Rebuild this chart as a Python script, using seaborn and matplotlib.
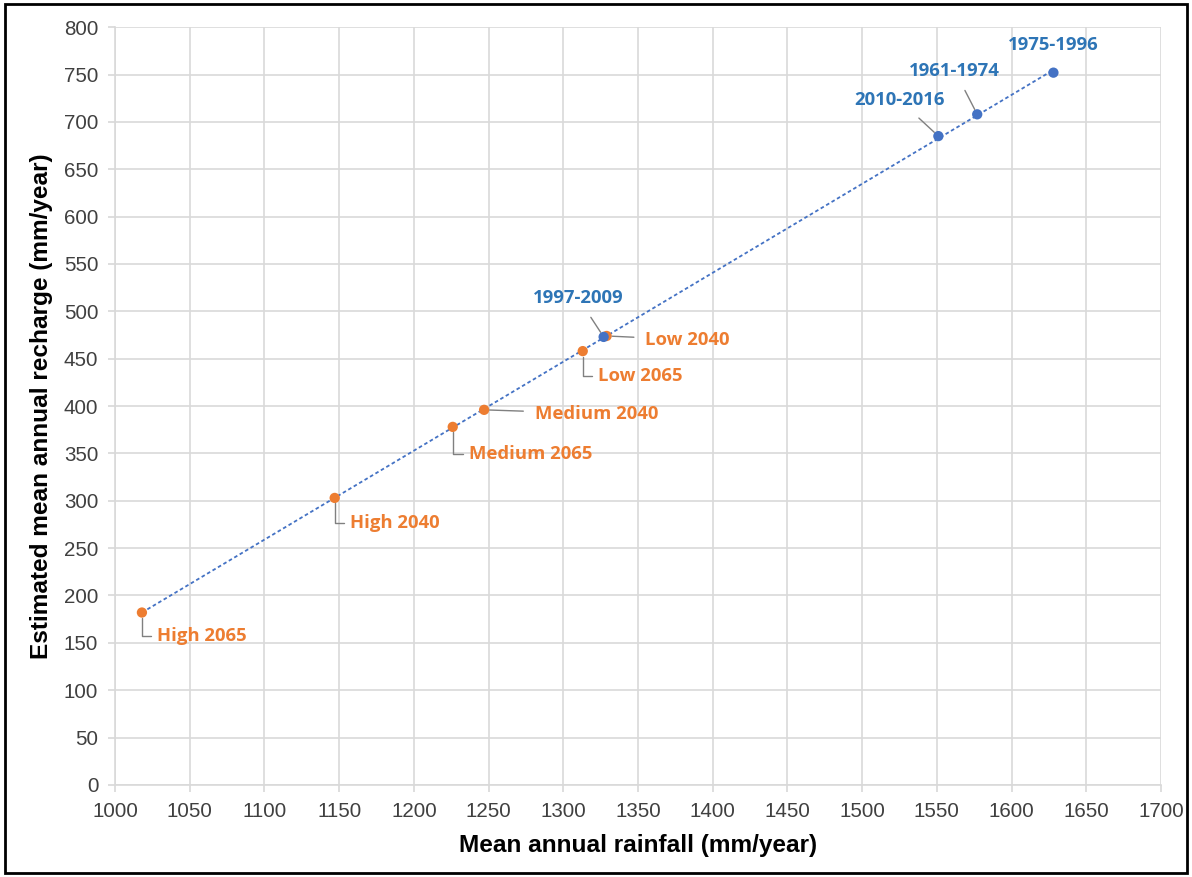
import numpy as np
import pandas as pd
import matplotlib.pyplot as plt
import seaborn as sns
from matplotlib.patches import Rectangle

# ========== DATA ==========
labels = ["High 2065", "High 2040", "Medium 2065", "Medium 2040", "Low 2065",
          "Low 2040", "1997-2009", "2010-2016", "1961-1974", "1975-1996"]
rainfall = [1018, 1147, 1226, 1247, 1313, 1329, 1327, 1551, 1577, 1628]
recharge = [182, 303, 378, 396, 458, 474, 473, 685, 708, 752]
group = ["Projected"] * 6 + ["Historical"] * 4

# label text positions (data units) and leader style
label_x = [1028, 1157, 1237, 1281, 1323, 1355, 1310, 1525, 1562, 1628]
label_y = [157, 277, 349, 392, 432, 470, 514, 723, 754, 781]
label_ha = ["left", "left", "left", "left", "left", "left", "center", "center", "center", "center"]
leader = ["elbow", "elbow", "elbow", "straight", "elbow", "straight", "straight", "straight", "straight", None]

x_ticks = list(range(1000, 1701, 50))
y_ticks = list(range(0, 801, 50))

df = pd.DataFrame({"label": labels, "rainfall": rainfall, "recharge": recharge, "group": group})

BLUE = "#4472C4"
BLUE_TXT = "#2E75B6"
ORANGE = "#ED7D31"
GRID = "#D9D9D9"

# ========== PLOT ==========
sns.set_theme(style="white")
plt.rcParams['font.family'] = ['Liberation Sans', 'DejaVu Sans']

fig = plt.figure(figsize=(11.92, 8.77), dpi=100)
ax = fig.add_axes([0.0965, 0.105, 0.8775, 0.864])

# dotted linear trendline through all points
sns.regplot(data=df, x="rainfall", y="recharge", ci=None, scatter=False, ax=ax,
            truncate=True, line_kws=dict(color=BLUE, lw=1.3, ls=(0, (2, 1.5))))

sns.scatterplot(data=df, x="rainfall", y="recharge", hue="group",
                palette={"Projected": ORANGE, "Historical": BLUE},
                s=55, edgecolor="none", legend=False, ax=ax, zorder=3)

for i, lab in enumerate(labels):
    col = ORANGE if group[i] == "Projected" else BLUE_TXT
    style = leader[i]
    if style is None:
        arrow = None
    elif style == "elbow":
        arrow = dict(arrowstyle="-", color="#808080", lw=1.0, shrinkA=2, shrinkB=4,
                     connectionstyle="angle,angleA=0,angleB=90,rad=0")
    else:
        arrow = dict(arrowstyle="-", color="#808080", lw=1.0, shrinkA=6, shrinkB=4)
    ax.annotate(lab, xy=(rainfall[i], recharge[i]), xytext=(label_x[i], label_y[i]),
                ha=label_ha[i], va="center", color=col, fontsize=13.3, fontweight="bold",
                family=["Open Sans", "DejaVu Sans"], arrowprops=arrow, zorder=4)

ax.set_xlim(1000, 1700)
ax.set_ylim(0, 800)
ax.set_xticks(x_ticks)
ax.set_yticks(y_ticks)
ax.grid(True, color=GRID, lw=1.2)
ax.set_axisbelow(True)
for side in ["top", "right"]:
    ax.spines[side].set_visible(False)
for side in ["left", "bottom"]:
    ax.spines[side].set_color(GRID)
    ax.spines[side].set_linewidth(1.2)
ax.tick_params(axis="both", which="major", length=5, color=GRID, labelsize=14.8,
               labelcolor="#404040", direction="out", bottom=True, left=True)
ax.tick_params(axis="y", pad=7)
ax.tick_params(axis="x", pad=7)
ax.set_xlabel("Mean annual rainfall (mm/year)", fontsize=17.6, fontweight="bold", color="black", labelpad=10)
ax.set_ylabel("Estimated mean annual recharge (mm/year)", fontsize=17.6, fontweight="bold", color="black", labelpad=8)

# outer frame of the picture
fig.patches.append(Rectangle((0.004, 0.004), 0.992, 0.991, transform=fig.transFigure,
                             fill=False, edgecolor="black", lw=2))

fig.savefig("out.png", dpi=100)
